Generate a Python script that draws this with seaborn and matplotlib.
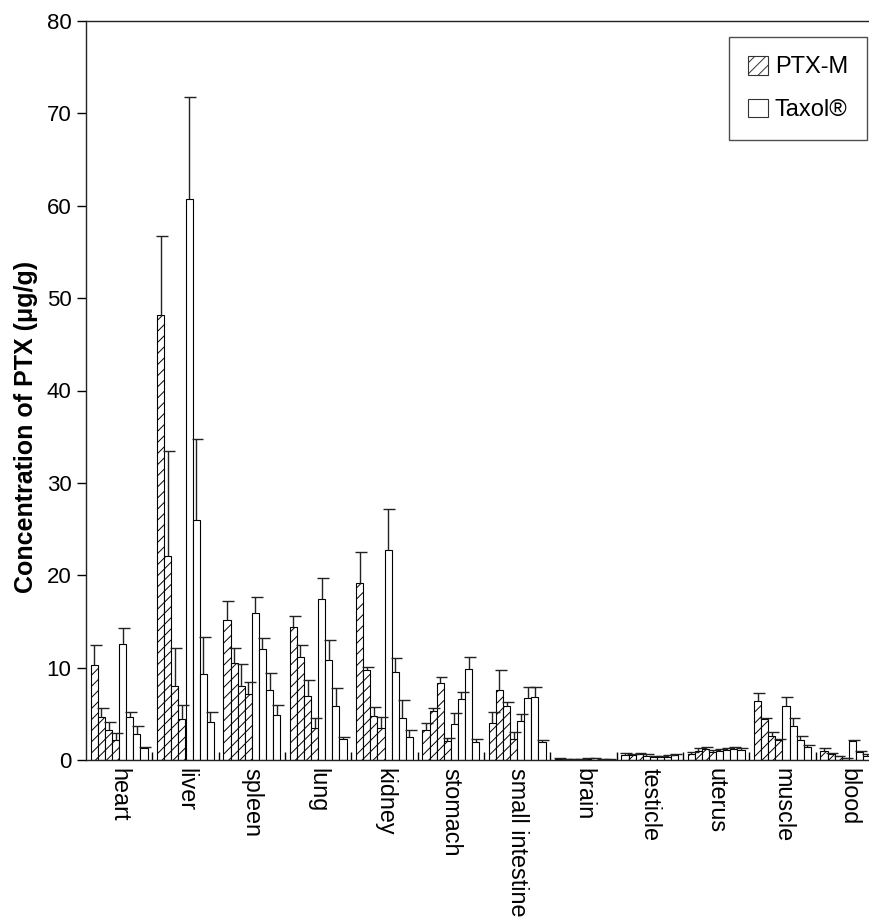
import numpy as np
import pandas as pd
import matplotlib
matplotlib.use("Agg")
import matplotlib.pyplot as plt
from matplotlib.patches import Patch
import seaborn as sns

# ---------------- data ----------------
tissues = ["heart", "liver", "spleen", "lung", "kidney", "stomach",
           "small intestine", "brain", "testicle", "uterus", "muscle", "blood"]
time_points = ["t1", "t2", "t3", "t4"]

ptxm_mean = [
    [10.3, 4.7, 3.25, 2.2],
    [48.2, 22.1, 8.0, 4.4],
    [15.2, 10.5, 8.0, 7.1],
    [14.4, 11.1, 6.9, 3.5],
    [19.2, 9.7, 4.8, 3.5],
    [3.2, 5.3, 8.3, 2.1],
    [4.0, 7.6, 5.8, 2.3],
    [0.15, 0.12, 0.1, 0.08],
    [0.5, 0.5, 0.6, 0.45],
    [0.7, 1.0, 1.2, 0.9],
    [6.4, 4.4, 2.6, 2.2],
    [0.95, 0.7, 0.4, 0.2],
]
ptxm_sd = [
    [2.2, 0.9, 0.85, 0.7],
    [8.5, 11.4, 4.1, 1.6],
    [2.0, 1.6, 2.4, 1.3],
    [1.2, 1.3, 1.8, 1.1],
    [3.3, 0.4, 0.9, 1.2],
    [0.8, 0.3, 0.65, 0.25],
    [1.2, 2.1, 0.5, 0.7],
    [0.05, 0.03, 0.03, 0.02],
    [0.25, 0.2, 0.2, 0.15],
    [0.2, 0.35, 0.2, 0.2],
    [0.9, 0.2, 0.4, 0.1],
    [0.3, 0.1, 0.05, 0.05],
]
taxol_mean = [
    [12.6, 4.7, 2.8, 1.25],
    [60.7, 26.0, 9.3, 4.15],
    [15.9, 12.0, 7.6, 4.9],
    [17.4, 10.8, 5.85, 2.3],
    [22.7, 9.5, 4.6, 2.5],
    [3.85, 6.55, 9.85, 2.0],
    [4.2, 6.75, 6.85, 2.0],
    [0.15, 0.18, 0.12, 0.1],
    [0.3, 0.3, 0.35, 0.55],
    [1.0, 1.1, 1.2, 1.1],
    [5.85, 3.7, 2.15, 1.45],
    [2.05, 0.9, 0.4, 0.3],
]
taxol_sd = [
    [1.7, 0.5, 0.9, 0.15],
    [11.1, 8.8, 4.0, 1.05],
    [1.7, 1.2, 1.85, 1.05],
    [2.25, 2.2, 1.95, 0.2],
    [4.5, 1.5, 1.9, 0.75],
    [1.25, 0.85, 1.25, 0.25],
    [0.75, 1.1, 1.05, 0.15],
    [0.03, 0.03, 0.03, 0.02],
    [0.1, 0.1, 0.15, 0.15],
    [0.2, 0.2, 0.2, 0.25],
    [1.0, 0.9, 0.45, 0.15],
    [0.15, 0.1, 0.2, 0.1],
]
formulations = ["PTX-M", "Taxol®"]
yticks = [0, 10, 20, 30, 40, 50, 60, 70, 80]

# ---------------- long table ----------------
rows = []
series_order = []
for f, means, sds in [(formulations[0], ptxm_mean, ptxm_sd),
                      (formulations[1], taxol_mean, taxol_sd)]:
    for k, t in enumerate(time_points):
        s = f"{f} {t}"
        series_order.append(s)
        for i, tis in enumerate(tissues):
            rows.append({"tissue": tis, "series": s,
                         "value": means[i][k], "sd": sds[i][k]})
df = pd.DataFrame(rows)

# ---------------- figure ----------------
sns.set_style("ticks")
plt.rcParams["font.family"] = ["Liberation Sans", "DejaVu Sans"]
plt.rcParams["hatch.linewidth"] = 0.7
plt.rcParams["hatch.color"] = "black"
for k in ["text.color", "axes.labelcolor", "xtick.color", "ytick.color"]:
    plt.rcParams[k] = "black"

W, H = 869, 919
fig = plt.figure(figsize=(W / 100, H / 100), dpi=100)
ax_left, ax_right, ax_top, ax_bottom = 86, 882, 21, 760
ax_w, ax_h = ax_right - ax_left, ax_bottom - ax_top
ax = fig.add_axes([ax_left / W, 1 - ax_bottom / H, ax_w / W, ax_h / H])

sns.barplot(data=df, x="tissue", y="value", hue="series",
            order=tissues, hue_order=series_order,
            palette=["white"] * len(series_order),
            edgecolor="black", linewidth=0.8, width=0.857,
            errorbar=None, legend=False, ax=ax, saturation=1)

n_t = len(time_points)
cap_half = 0.09
for ci, cont in enumerate(ax.containers):
    s = series_order[ci]
    sub = df[df["series"] == s].set_index("tissue").loc[tissues]
    for patch, sd in zip(cont.patches, sub["sd"].values):
        if ci < n_t:
            patch.set_hatch("///")
        xc = patch.get_x() + patch.get_width() / 2
        top = patch.get_height()
        ax.vlines(xc, top, top + sd, color="#222222", lw=1.0, zorder=3)
        ax.hlines(top + sd, xc - cap_half + 0.02, xc + cap_half + 0.02,
                  color="#222222", lw=1.0, zorder=3)

ax.set_xlim(-0.5, len(tissues) - 0.5)
ax.set_ylim(0, 80)
ax.set_yticks(yticks)
ax.set_yticklabels([str(v) for v in yticks], fontsize=16)
ax.set_xticks(range(len(tissues)))
ax.set_xticklabels(tissues, rotation=-90, fontsize=16.8, va="top", ha="center")
ax.set_xticks(np.arange(0.5, len(tissues) - 0.5, 1), minor=True)
ax.tick_params(axis="x", which="major", length=0, pad=6)
ax.tick_params(axis="x", which="minor", direction="in", length=6, width=1.0)
ax.tick_params(axis="y", which="major", direction="out", length=6.5, width=1.0,
               pad=4)
ax.set_xlabel("")
ax.set_ylabel("Concentration of PTX (μg/g)", fontsize=18, fontweight="bold")
ax.yaxis.set_label_coords((38 - ax_left) / ax_w, (ax_bottom - 427) / ax_h)
for sp in ax.spines.values():
    sp.set_linewidth(1.0)
    sp.set_color("#222222")

handles = [Patch(facecolor="white", edgecolor="#333333", hatch="///", lw=0.8,
                 label=formulations[0]),
           Patch(facecolor="white", edgecolor="#333333", lw=0.8,
                 label=formulations[1])]
leg = ax.legend(handles=handles, loc="upper right",
                bbox_to_anchor=((867 - ax_left) / ax_w,
                                (ax_bottom - 37) / ax_h),
                fontsize=17, frameon=True, fancybox=False,
                handlelength=0.85, handleheight=0.85, handletextpad=0.3,
                labelspacing=0.85, borderpad=0.8, borderaxespad=0)
leg.get_frame().set_edgecolor("#222222")
leg.get_frame().set_linewidth(1.0)

fig.savefig("out.png", dpi=100)
